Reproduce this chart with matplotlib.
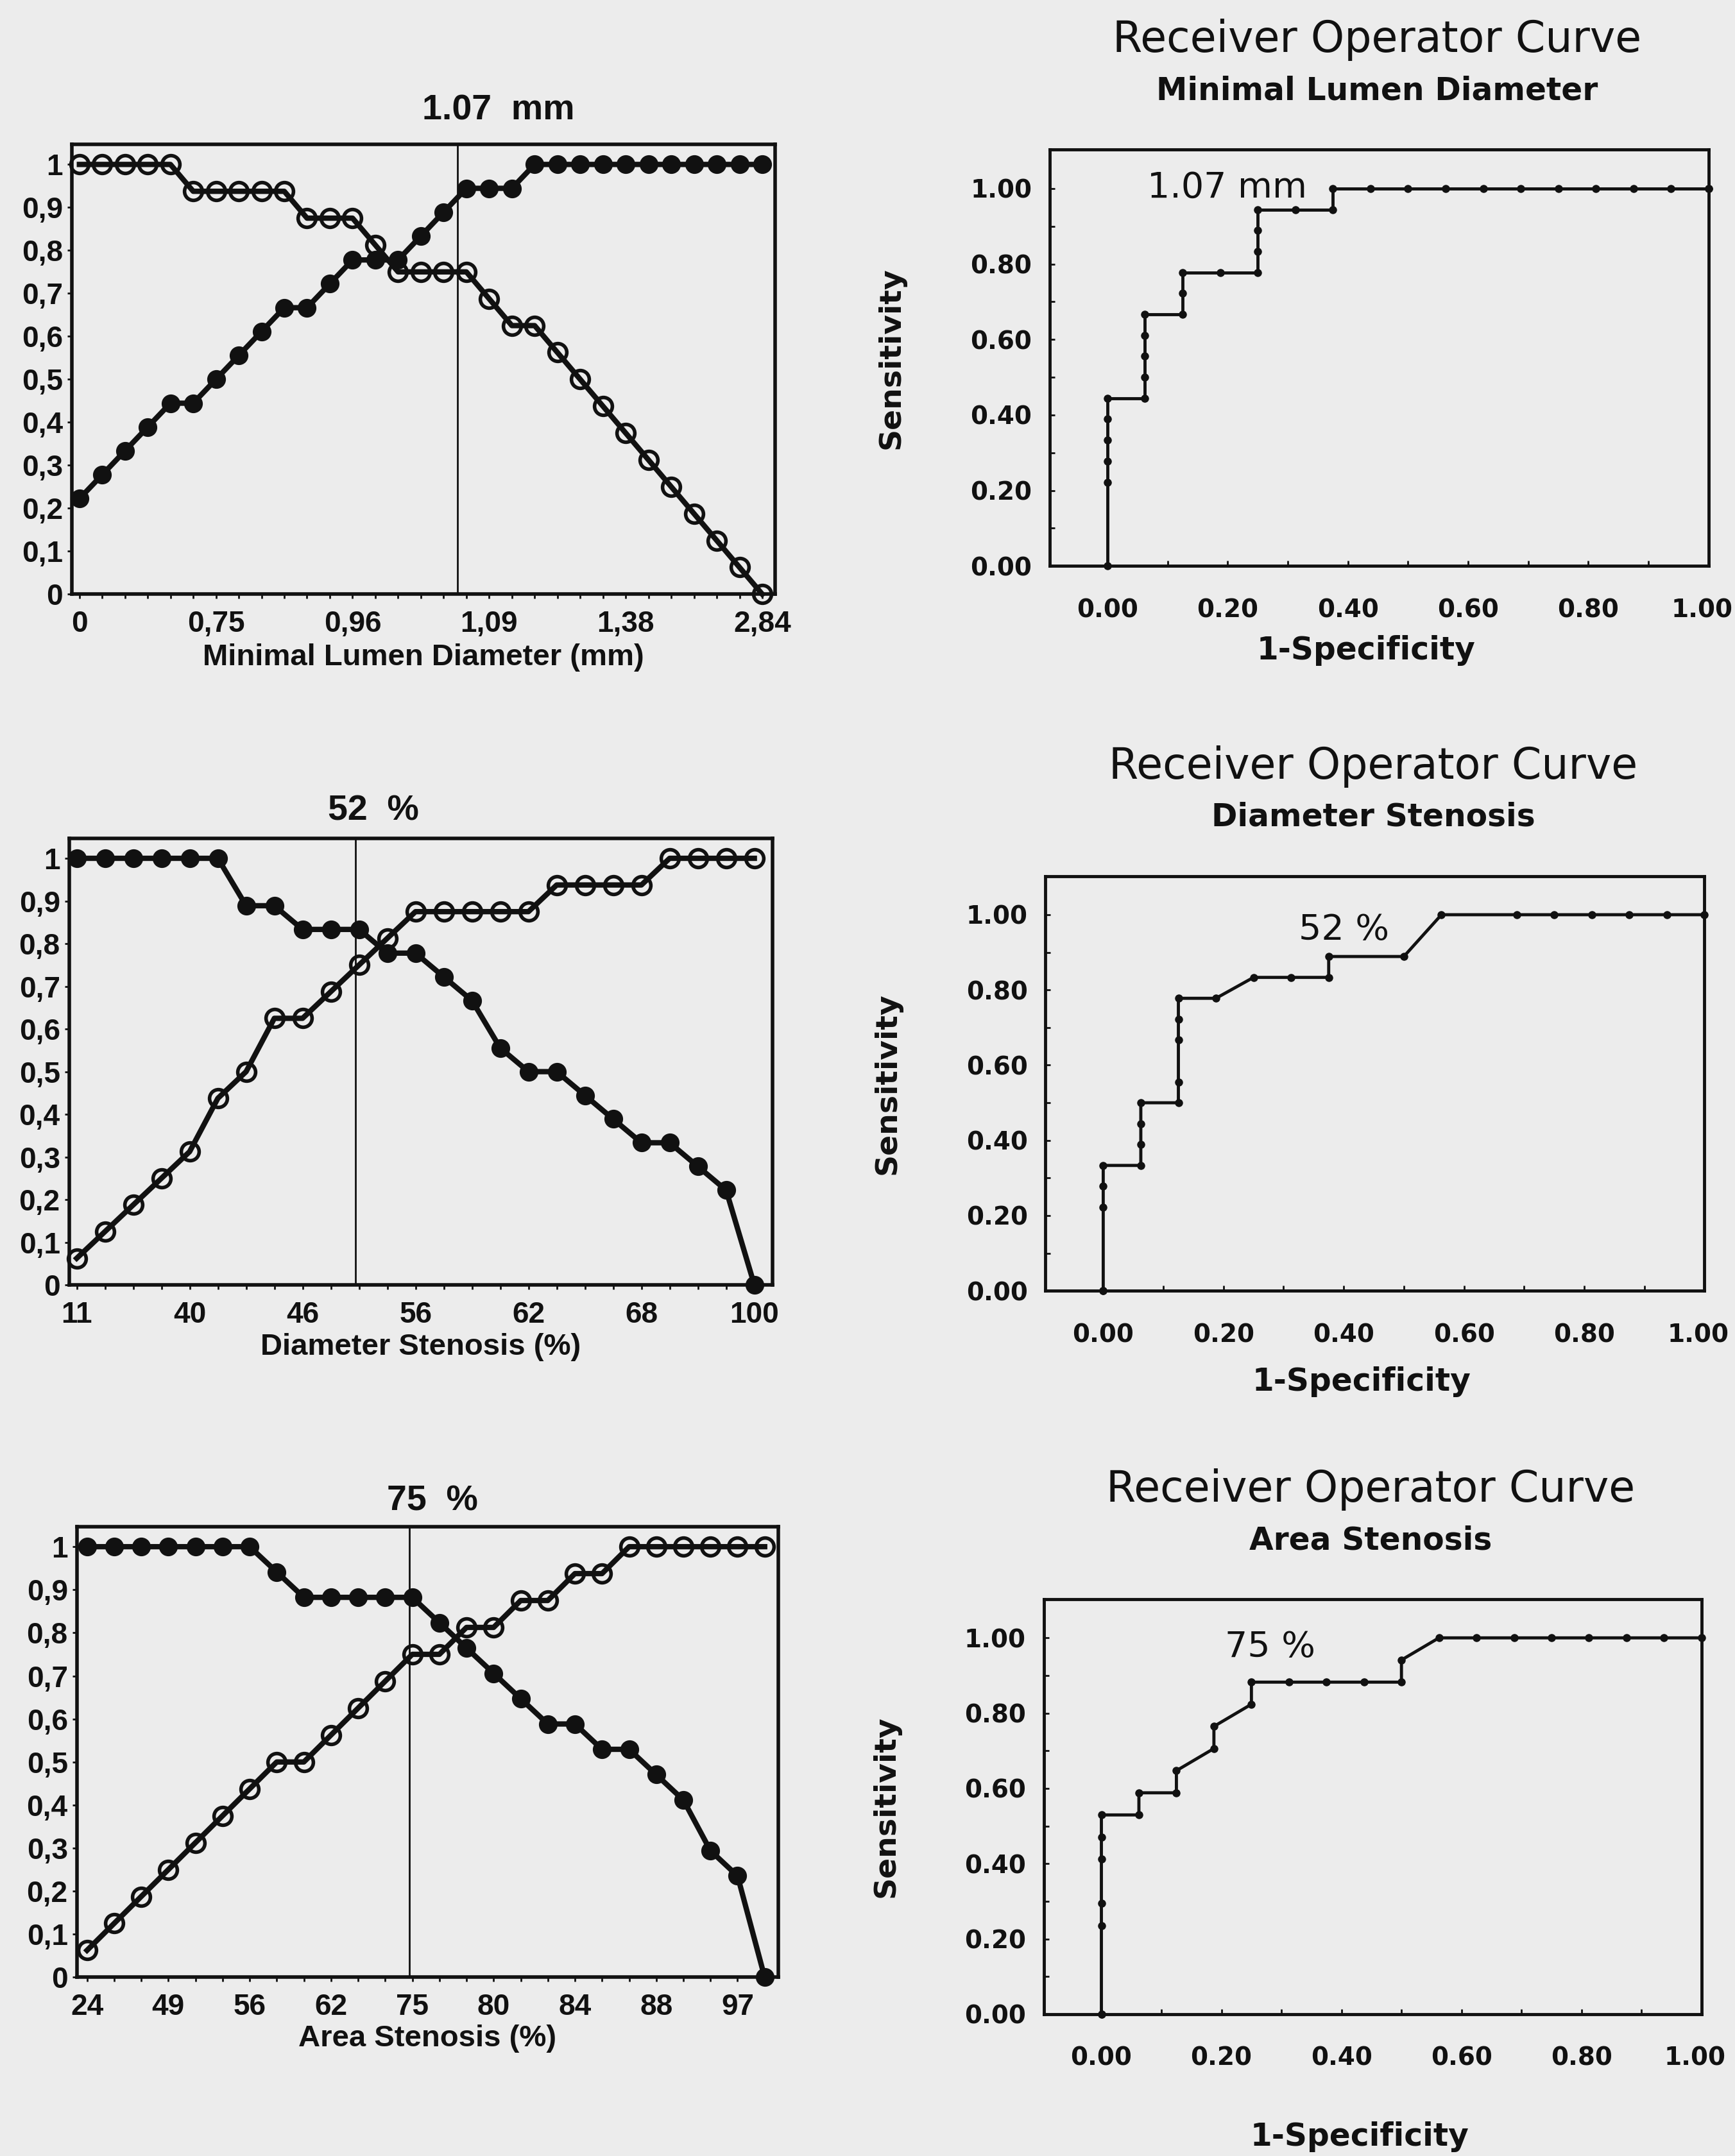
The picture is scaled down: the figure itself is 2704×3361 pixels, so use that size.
import numpy as np
import matplotlib.pyplot as plt
from matplotlib.transforms import ScaledTranslation

PAPER = '#ececec'
INK = '#111111'
LEFT_FONT = ['Liberation Sans', 'DejaVu Sans']
RIGHT_FONT = ['DejaVu Sans']

# true negatives are out of 16 in every table (open circles = specificity)
N_NEG = 16

# minimal lumen diameter: true positives out of 18 (filled circles = sensitivity)
mld_pos = 18
mld_tp = [4, 5, 6, 7, 8, 8, 9, 10, 11, 12, 12, 13, 14, 14, 14, 15, 16, 17, 17, 17,
          18, 18, 18, 18, 18, 18, 18, 18, 18, 18, 18]
mld_tn = [16, 16, 16, 16, 16, 15, 15, 15, 15, 15, 14, 14, 14, 13, 12, 12, 12, 12,
          11, 10, 10, 9, 8, 7, 6, 5, 4, 3, 2, 1, 0]
mld_ticks = ['0', '0,75', '0,96', '1,09', '1,38', '2,84']
mld_cut = 16.6

# diameter stenosis
ds_pos = 18
ds_tp = [18, 18, 18, 18, 18, 18, 16, 16, 15, 15, 15, 14, 14, 13, 12, 10, 9, 9,
         8, 7, 6, 6, 5, 4, 0]
ds_tn = [1, 2, 3, 4, 5, 7, 8, 10, 10, 11, 12, 13, 14, 14, 14, 14, 14, 15, 15,
         15, 15, 16, 16, 16, 16]
ds_ticks = ['11', '40', '46', '56', '62', '68', '100']
ds_cut = 9.87

# area stenosis: 17 positives
as_pos = 17
as_tp = [17, 17, 17, 17, 17, 17, 17, 16, 15, 15, 15, 15, 15, 14, 13, 12, 11, 10,
         10, 9, 9, 8, 7, 5, 4, 0]
as_tn = [1, 2, 3, 4, 5, 6, 7, 8, 8, 9, 10, 11, 12, 12, 13, 13, 14, 14, 15, 15,
         16, 16, 16, 16, 16, 16]
as_ticks = ['24', '49', '56', '62', '75', '80', '84', '88', '97']
as_cut = 11.9

y_labels = ['0', '0,1', '0,2', '0,3', '0,4', '0,5', '0,6', '0,7', '0,8', '0,9', '1']
roc_labels = ['0.00', '0.20', '0.40', '0.60', '0.80', '1.00']

fig = plt.figure(figsize=(27.04, 33.61), dpi=100, facecolor=PAPER)


def style_spines(ax, lw):
    for s in ax.spines.values():
        s.set_linewidth(lw)
        s.set_color(INK)
    ax.set_facecolor(PAPER)


def threshold_panel(rect, tp, n_pos, tn, cut, tick_step, ticks, xlabel, cut_text,
                    xlim, cut_xy, label_y):
    ax = fig.add_axes(rect)
    sens = np.array(tp) / n_pos
    spec = np.array(tn) / N_NEG
    x = np.arange(len(sens))
    ax.plot(x, sens, color=INK, lw=6, marker='o', ms=20, mfc=INK, mec=INK,
            clip_on=False, zorder=3)
    ax.plot(x, spec, color=INK, lw=6, marker='o', ms=20, mfc='none', mec=INK,
            mew=4, clip_on=False, zorder=4)
    ax.axvline(cut, color=INK, lw=2, zorder=2)
    ax.set_xlim(*xlim)
    ax.set_ylim(0, 1.047)
    ax.set_xticks(x, minor=True)
    ax.set_xticks(np.arange(len(ticks)) * tick_step, ticks)
    ax.set_yticks(np.linspace(0, 1, 11), y_labels)
    ax.tick_params(which='both', direction='out', length=5, width=2, color=INK)
    ax.tick_params(axis='x', pad=13)
    ax.tick_params(axis='y', pad=5)
    for t in ax.get_xticklabels() + ax.get_yticklabels():
        t.set_fontfamily(LEFT_FONT)
        t.set_fontsize(33)
        t.set_fontweight('bold')
        t.set_color(INK)
    style_spines(ax, 4)
    ax.text(0.5, label_y, xlabel, transform=ax.transAxes, ha='center', va='baseline',
            fontsize=34, fontweight='bold', family=LEFT_FONT, color=INK)
    ax.text(cut_xy[0], cut_xy[1], cut_text, transform=ax.transAxes, ha='center',
            va='baseline', fontsize=40, fontweight='bold', family=LEFT_FONT, color=INK)
    return ax


def roc_panel(rect, tp, n_pos, tn, subtitle, cut_text, cut_xy, label_y):
    ax = fig.add_axes(rect)
    fpr = np.concatenate([[0.0], 1 - np.array(tn) / N_NEG, [1.0]])
    tpr = np.concatenate([[0.0], np.array(tp) / n_pos, [1.0]])
    order = np.lexsort((tpr, fpr))
    ax.plot(fpr[order], tpr[order], color=INK, lw=3.5, marker='o', ms=8,
            clip_on=False, zorder=3)
    ax.set_xlim(-0.096, 1.0)
    ax.set_ylim(0, 1.103)
    ax.set_xticks(np.linspace(0, 1, 6), roc_labels)
    ax.set_yticks(np.linspace(0, 1, 6), roc_labels)
    ax.set_xticks(np.linspace(0, 1, 11), minor=True)
    ax.set_yticks(np.linspace(0.1, 0.9, 5), minor=True)
    ax.tick_params(which='both', direction='in', length=6, width=2, color=INK)
    ax.tick_params(axis='x', pad=36)
    ax.tick_params(axis='y', pad=20)
    for t in ax.get_xticklabels() + ax.get_yticklabels():
        t.set_fontfamily(RIGHT_FONT)
        t.set_fontsize(28)
        t.set_fontweight('bold')
        t.set_color(INK)
    # the last label sits at the page edge; nudge it in a little
    last = ax.get_xticklabels()[-1]
    last.set_transform(last.get_transform() + ScaledTranslation(-0.1, 0, fig.dpi_scale_trans))
    style_spines(ax, 3.5)
    ax.text(0.497, 1.235, 'Receiver Operator Curve', transform=ax.transAxes,
            ha='center', va='baseline', fontsize=48, family=RIGHT_FONT, color=INK)
    ax.text(0.497, 1.12, subtitle, transform=ax.transAxes, ha='center',
            va='baseline', fontsize=35, fontweight='bold', family=RIGHT_FONT, color=INK)
    ax.text(cut_xy[0], cut_xy[1], cut_text, transform=ax.transAxes, ha='left',
            va='baseline', fontsize=40, family=RIGHT_FONT, color=INK)
    ax.text(-0.24, 0.5, 'Sensitivity', transform=ax.transAxes, rotation=90,
            ha='center', va='center', fontsize=34, fontweight='bold',
            family=RIGHT_FONT, color=INK)
    ax.text(0.48, label_y, '1-Specificity', transform=ax.transAxes, ha='center',
            va='baseline', fontsize=35, fontweight='bold', family=RIGHT_FONT, color=INK)
    return ax


threshold_panel([0.0413, 0.7244, 0.4054, 0.2087], mld_tp, mld_pos, mld_tn, mld_cut,
                6, mld_ticks, 'Minimal Lumen Diameter (mm)', '1.07  mm',
                (-0.34, 30.56), (0.607, 1.055), -0.158)
threshold_panel([0.0398, 0.4040, 0.4054, 0.2072], ds_tp, ds_pos, ds_tn, ds_cut,
                4, ds_ticks, 'Diameter Stenosis (%)', '52  %',
                (-0.27, 24.64), (0.433, 1.040), -0.156)
threshold_panel([0.0442, 0.0829, 0.4045, 0.2091], as_tp, as_pos, as_tn, as_cut,
                3, as_ticks, 'Area Stenosis (%)', '75  %',
                (-0.38, 25.51), (0.507, 1.035), -0.153)

roc_panel([0.6050, 0.7375, 0.3798, 0.1931], mld_tp, mld_pos, mld_tn,
          'Minimal Lumen Diameter', '1.07 mm', (0.148, 0.885), -0.224)
roc_panel([0.6026, 0.4013, 0.3798, 0.1924], ds_tp, ds_pos, ds_tn,
          'Diameter Stenosis', '52 %', (0.384, 0.846), -0.241)
roc_panel([0.6016, 0.0658, 0.3791, 0.1925], as_tp, as_pos, as_tn,
          'Area Stenosis', '75 %', (0.275, 0.860), -0.317)

fig.savefig('out.png', dpi=100, facecolor=PAPER)
